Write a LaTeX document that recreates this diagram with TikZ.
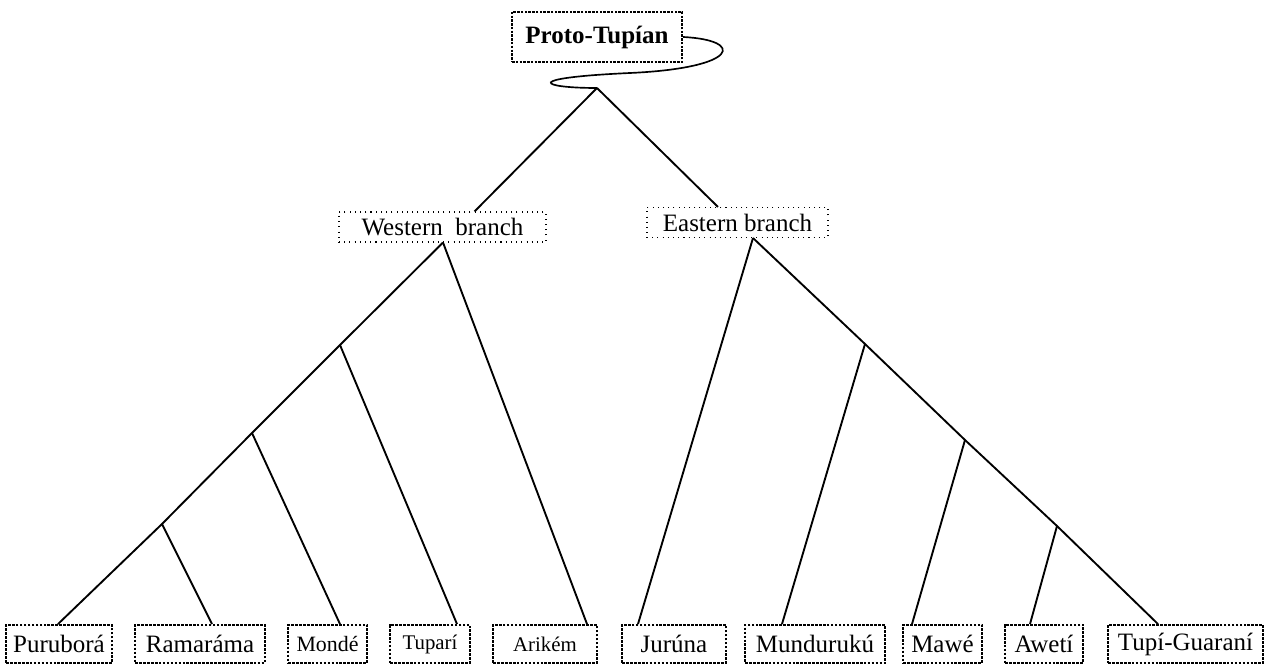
\documentclass[tikz,border=0pt]{standalone}
\usepackage{fontspec}
\setmainfont{Liberation Serif}
\usetikzlibrary{calc}
\newlength\pxu
\setlength\pxu{0.48pt}

\begin{document}
\begin{tikzpicture}[x=\pxu, y=-\pxu, line width=0.9pt,
  leaf node/.style={draw, dash pattern=on 1.3pt off 0.6pt, line width=0.9pt, minimum height=38\pxu, inner sep=0pt, font=\fontsize{12}{14}\selectfont},
  small leaf/.style={leaf node, font=\fontsize{10}{12}\selectfont},
  branch node/.style={draw, dotted, line width=0.5pt, minimum height=30\pxu, inner sep=0pt, font=\fontsize{12}{14}\selectfont},
  root node/.style={draw, dash pattern=on 1.2pt off 0.6pt, line width=1pt, minimum width=170\pxu, minimum height=50\pxu, inner sep=0pt, font=\fontsize{12}{14}\selectfont\bfseries}]
\useasboundingbox (0,0) rectangle (1271,667);

% root and branches
\node[root node] (proto) at (597,37) {Proto-Tupían};
\coordinate (apex) at (597,88);
\node[branch node, minimum width=207\pxu] (west) at (442.5,227) {Western\ \ branch};
\node[branch node, minimum width=181\pxu] (east) at (737.5,222.5) {Eastern branch};

% leaves
\node[leaf node, minimum width=106\pxu] (purubora) at (59,644) {Puruborá};
\node[leaf node, minimum width=130\pxu] (ramarama) at (200,644) {Ramaráma};
\node[leaf node, minimum width=79\pxu, font=\fontsize{10.5}{12}\selectfont] (monde) at (327.5,644) {Mondé};
\node[small leaf, minimum width=80\pxu] (tupari) at (430,644) {Tuparí};
\node[small leaf, minimum width=104\pxu] (arikem) at (545,644) {Arikém};
\node[leaf node, minimum width=104\pxu] (juruna) at (674,644) {Jurúna};
\node[leaf node, minimum width=140\pxu] (munduruku) at (815,644) {Mundurukú};
\node[leaf node, minimum width=79\pxu] (mawe) at (942.5,644) {Mawé};
\node[leaf node, minimum width=78\pxu] (aweti) at (1044,644) {Awetí};
\node[leaf node, minimum width=155\pxu] (tupiguarani) at (1185.5,644) {Tupí-Guaraní};

% joints
\coordinate (w1) at (340,345);
\coordinate (w2) at (252,433);
\coordinate (w3) at (162,524);
\coordinate (e1) at (865,344);
\coordinate (e2) at (965,440);
\coordinate (e3) at (1057,526);

% the hook under the root
\draw[line width=0.8pt] (proto.east) .. controls (745,40) and (740,68) .. (630,73)
  .. controls (520,78) and (540,88) .. (apex);
\draw (apex) -- ([xshift=32\pxu]west.north);
\draw (apex) -- ([xshift=-19.5\pxu]east.north);

% western branch
\draw ([xshift=0.5\pxu]west.south) -- (w1) -- (w2) -- (w3) -- ([xshift=-1\pxu]purubora.north);
\draw ([xshift=0.5\pxu]west.south) -- ([xshift=42\pxu]arikem.north);
\draw (w1) -- ([xshift=27\pxu]tupari.north);
\draw (w2) -- ([xshift=12.5\pxu]monde.north);
\draw (w3) -- ([xshift=12\pxu]ramarama.north);

% eastern branch
\draw ([xshift=15.5\pxu]east.south) -- (e1) -- (e2) -- (e3) -- ([xshift=-27.5\pxu]tupiguarani.north);
\draw ([xshift=15.5\pxu]east.south) -- ([xshift=-36\pxu]juruna.north);
\draw (e1) -- ([xshift=-33\pxu]munduruku.north);
\draw (e2) -- ([xshift=-30.5\pxu]mawe.north);
\draw (e3) -- ([xshift=-14\pxu]aweti.north);
\end{tikzpicture}
\end{document}
